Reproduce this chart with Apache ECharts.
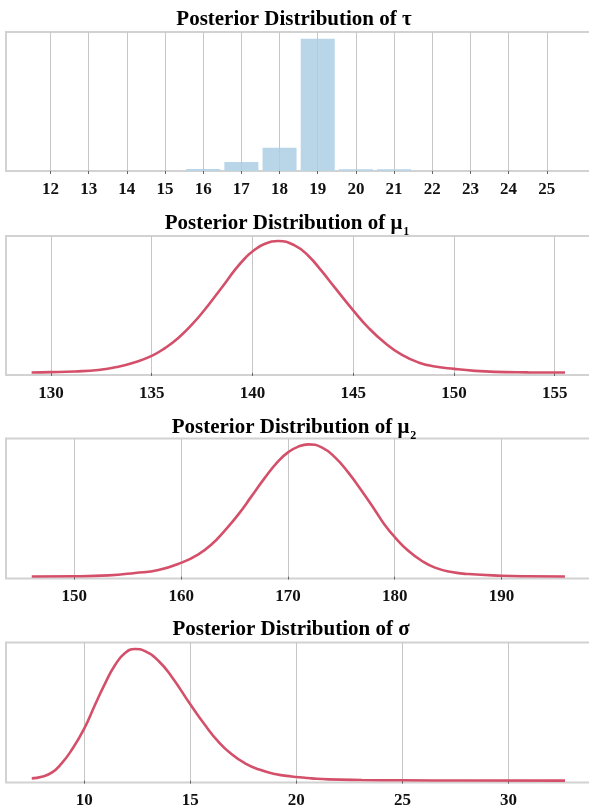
<!DOCTYPE html>
<html>
<head>
<meta charset="utf-8">
<script src="https://cdn.jsdelivr.net/npm/echarts@6/dist/echarts.min.js"></script>
<style>
html,body{margin:0;padding:0;background:#fff;}
#chart{width:589px;height:811px;}
</style>
</head>
<body>
<div id="chart"></div>
<script>
// ---------- data ----------
const tauTicks = [12, 13, 14, 15, 16, 17, 18, 19, 20, 21, 22, 23, 24, 25];
const tauValues = [16, 17, 18, 19, 20, 21];
const tauProb = [0.012, 0.053, 0.137, 0.779, 0.010, 0.010];

const mu1Ticks = [130, 135, 140, 145, 150, 155];
const mu1X = [129.04, 130.0, 131.19, 132.35, 133.34, 134.17, 135.0, 135.66, 136.32, 136.98, 137.64, 138.14, 138.64, 139.13, 139.63, 140.0, 140.62, 141.28, 142.11, 142.77, 143.43, 144.09, 145.02, 145.75, 146.58, 147.40, 148.23, 149.06, 150.02, 151.04, 152.03, 153.69, 155.51];
const mu1Y = [0.0005, 0.0008, 0.0015, 0.0030, 0.0062, 0.0106, 0.0168, 0.0245, 0.0345, 0.0473, 0.0625, 0.0753, 0.0883, 0.1015, 0.1130, 0.1197, 0.1272, 0.1300, 0.1255, 0.1155, 0.1005, 0.0840, 0.0612, 0.0447, 0.0295, 0.0180, 0.0104, 0.0064, 0.0040, 0.0021, 0.0011, 0.0006, 0.0004];

const mu2Ticks = [150, 160, 170, 180, 190];
const mu2X = [146.01, 150.0, 153.18, 155.68, 157.87, 160.05, 161.61, 162.86, 164.11, 165.36, 166.60, 167.85, 169.10, 170.04, 170.97, 171.91, 173.16, 174.41, 175.66, 176.90, 178.15, 179.09, 180.02, 181.27, 182.52, 183.77, 185.33, 186.89, 190.01, 192.51, 195.94];
const mu2Y = [0.0001, 0.0002, 0.0007, 0.0020, 0.0036, 0.0076, 0.0121, 0.0175, 0.0251, 0.0337, 0.0436, 0.0536, 0.0626, 0.0674, 0.0704, 0.0716, 0.0700, 0.0646, 0.0563, 0.0465, 0.0360, 0.0278, 0.0213, 0.0140, 0.0086, 0.0049, 0.0025, 0.0014, 0.0005, 0.0002, 0.0001];

const sigmaTicks = [10, 15, 20, 25, 30];
const sigmaX = [7.52, 7.99, 8.46, 8.93, 9.40, 10.0, 10.50, 10.98, 11.45, 11.92, 12.39, 12.86, 13.49, 14.12, 15.02, 15.69, 16.32, 16.95, 17.58, 18.21, 18.99, 19.78, 20.41, 20.72, 21.51, 23.08, 25.0, 27.8, 32.67];
const sigmaY = [0.0032, 0.0055, 0.0109, 0.0237, 0.0419, 0.0715, 0.1034, 0.1331, 0.1581, 0.1745, 0.1800, 0.1770, 0.1640, 0.1420, 0.1034, 0.0761, 0.0533, 0.0360, 0.0237, 0.0155, 0.0091, 0.0057, 0.0041, 0.0032, 0.0018, 0.0009, 0.0005, 0.0002, 0.0001];

const titles = ['Posterior Distribution of {g|τ}', 'Posterior Distribution of {g|μ}{s|1}', 'Posterior Distribution of {g|μ}{s|2}', 'Posterior Distribution of {g|σ}'];

// ---------- style ----------
const FONT = '"Liberation Serif", "Times New Roman", serif';
const RED = '#d4506a';
const BAR = '#b9d5e8';
const GRIDC = '#c6c6c6';
const BORDER = '#d2d2d2';

const grids = [
  {top: 32, height: 139},
  {top: 236, height: 139},
  {top: 438.5, height: 140},
  {top: 642.5, height: 140}
];
const xRanges = [[10.834, 27.6], [127.77, 159.53], [143.6, 203.53], [6.305, 36.49]];
const yRanges = [[0, 0.818], [-0.002, 0.1349], [-0.001, 0.0748], [-0.0025, 0.1889]];
const tickSets = [tauTicks, mu1Ticks, mu2Ticks, sigmaTicks];
const titleTops = [9, 213, 417, 618.5];
const titleCenters = [294, 287, 294, 291];

const zip = (a, b) => a.map((v, i) => [v, b[i]]);

const lineSeries = (idx, data) => ({
  type: 'line', xAxisIndex: idx, yAxisIndex: idx, data: data,
  smooth: 0.5, showSymbol: false,
  lineStyle: {color: RED, width: 2.6}
});

const option = {
  animation: false,
  backgroundColor: '#fff',
  title: titles.map((t, i) => ({
    text: t,
    left: titleCenters[i],
    top: titleTops[i],
    textAlign: 'center',
    padding: 0,
    textStyle: {
      fontFamily: FONT, fontWeight: 'bold', fontSize: 21, color: '#000', lineHeight: 22,
      rich: {
        g: {fontFamily: FONT, fontWeight: 'bold', fontSize: 21, color: '#000', lineHeight: 22},
        s: {fontFamily: FONT, fontWeight: 'bold', fontSize: 12, color: '#000', lineHeight: 22, verticalAlign: 'bottom', padding: [0, 0, -3, 1]}
      }
    }
  })),
  grid: grids.map(g => ({
    left: 6, width: 640, top: g.top, height: g.height,
    outerBoundsMode: 'none', containLabel: false,
    show: true, borderColor: BORDER, borderWidth: 2, backgroundColor: 'transparent'
  })),
  xAxis: tickSets.map((ticks, i) => ({
    type: 'value', gridIndex: i, z: 3,
    min: xRanges[i][0], max: xRanges[i][1],
    axisLine: {show: false},
    axisTick: {show: true, length: 3, lineStyle: {color: '#666', width: 1}, customValues: ticks},
    axisLabel: {show: true, customValues: ticks, margin: 10, fontFamily: FONT, fontWeight: 'bold', fontSize: 17, color: '#111'},
    splitLine: {show: true, lineStyle: {color: GRIDC, width: 1}}
  })),
  yAxis: yRanges.map((r, i) => ({
    type: 'value', gridIndex: i, min: r[0], max: r[1], show: false,
    splitLine: {show: false}
  })),
  series: [
    {type: 'bar', xAxisIndex: 0, yAxisIndex: 0, data: zip(tauValues, tauProb), barWidth: 34, itemStyle: {color: BAR}, z: 1},
    lineSeries(1, zip(mu1X, mu1Y)),
    lineSeries(2, zip(mu2X, mu2Y)),
    lineSeries(3, zip(sigmaX, sigmaY))
  ]
};

const chart = echarts.init(document.getElementById('chart'), null, {renderer: 'canvas'});
chart.setOption(option);
</script>
</body>
</html>
